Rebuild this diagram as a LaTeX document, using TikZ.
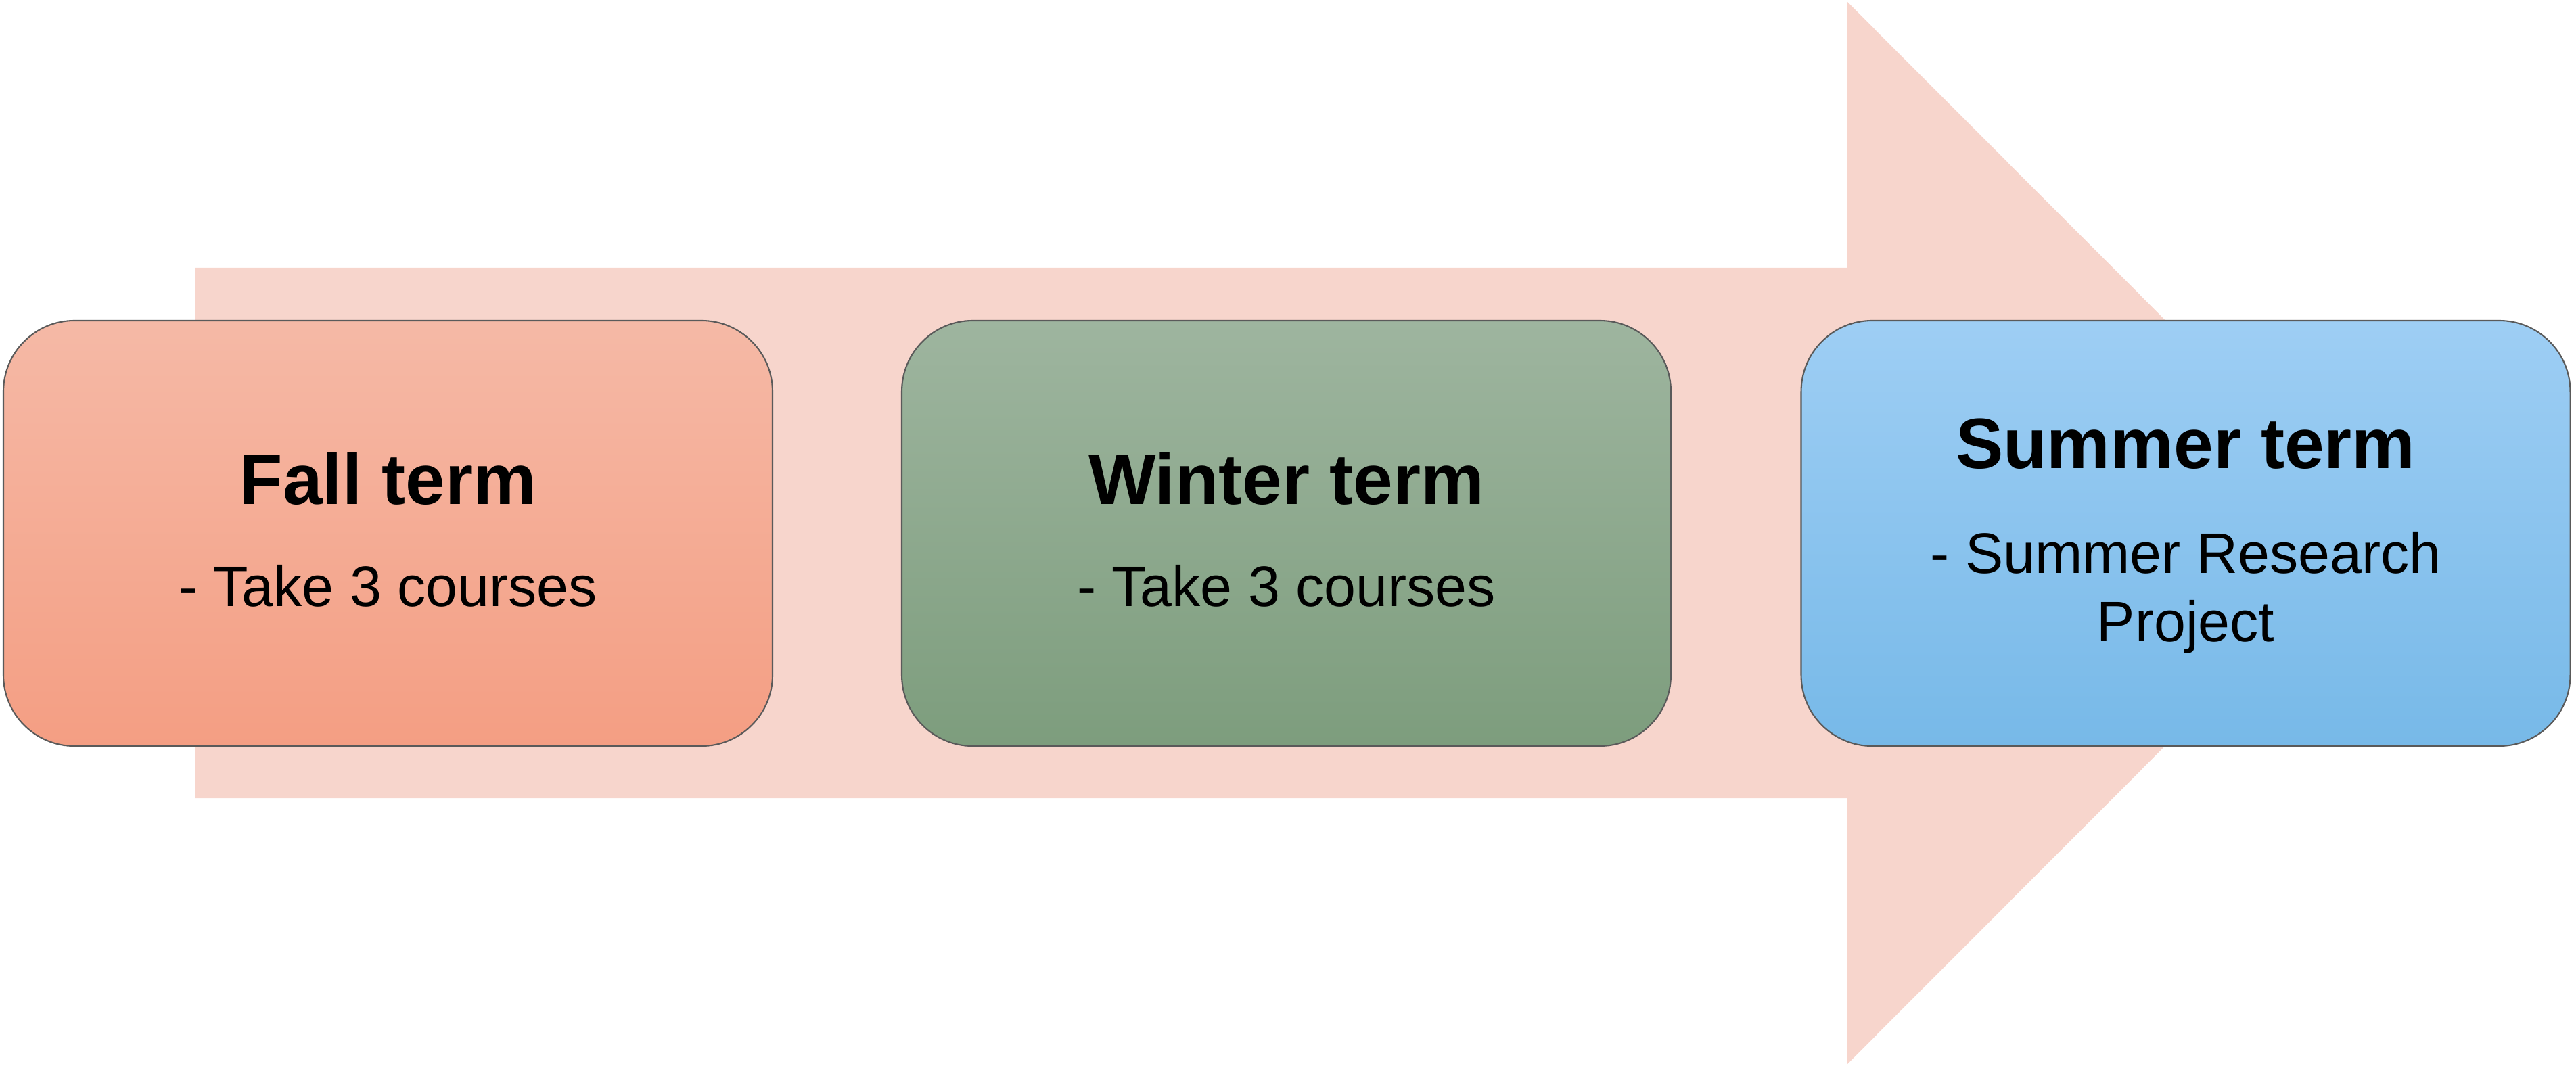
\documentclass[tikz,border=0pt]{standalone}
\usepackage{fontspec}
\setmainfont{Liberation Sans}
\definecolor{arrowc}{HTML}{F7D5CC}
\definecolor{fallT}{HTML}{F5B9A6}
\definecolor{fallB}{HTML}{F49E83}
\definecolor{winT}{HTML}{9EB59F}
\definecolor{winB}{HTML}{7D9D7D}
\definecolor{sumT}{HTML}{9ECEF4}
\definecolor{sumB}{HTML}{77B9E8}
\definecolor{edgec}{HTML}{5A5A5A}
\tikzset{
  termbox/.style={draw=edgec, line width=0.6pt, rounded corners=1.05cm,
    minimum width=11.37cm, minimum height=6.29cm, inner sep=0pt},
  titletext/.style={anchor=base, font=\fontsize{30}{36}\selectfont\bfseries, inner sep=0pt},
  subtext/.style={anchor=base, font=\fontsize{24}{29}\selectfont, inner sep=0pt, align=center}
}
\begin{document}
\begin{tikzpicture}
\useasboundingbox (0,0) rectangle (38.08,15.81);
% big background arrow
\fill[arrowc] (2.89,11.85) -- (27.31,11.85) -- (27.31,15.78) -- (35.15,7.93)
  -- (27.31,0.08) -- (27.31,4.01) -- (2.89,4.01) -- cycle;
% boxes
\node[termbox, top color=fallT, bottom color=fallB] (fall) at (5.735,7.925) {};
\node[termbox, top color=winT, bottom color=winB] (winter) at (19.015,7.925) {};
\node[termbox, top color=sumT, bottom color=sumB] (summer) at (32.31,7.925) {};
% texts
\node[titletext] (fallt) at (5.735,8.36) {Fall term};
\node[subtext] (falls) at (5.735,6.85) {- Take 3 courses};
\node[titletext] (wint) at (19.015,8.36) {Winter term};
\node[subtext] (wins) at (19.015,6.85) {- Take 3 courses};
\node[titletext] (sumt) at (32.31,8.88) {Summer term};
\node[subtext] (sums1) at (32.31,7.34) {- Summer Research};
\node[subtext] (sums2) at (32.31,6.33) {Project};
\end{tikzpicture}
\end{document}
